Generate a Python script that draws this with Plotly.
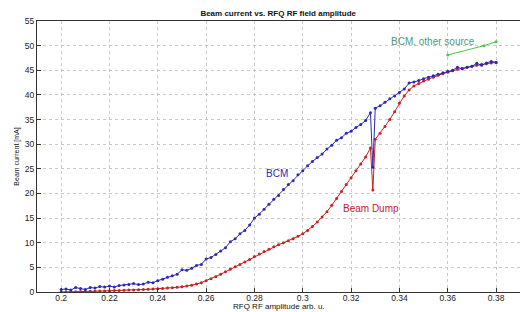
import plotly.graph_objects as go

amplitude = [0.200, 0.202, 0.204, 0.206, 0.208, 0.210, 0.212, 0.214, 0.216, 0.218,
             0.220, 0.222, 0.224, 0.226, 0.228, 0.230, 0.232, 0.234, 0.236, 0.238,
             0.240, 0.242, 0.244, 0.246, 0.248, 0.250, 0.252, 0.254, 0.256, 0.258,
             0.260, 0.262, 0.264, 0.266, 0.268, 0.270, 0.272, 0.274, 0.276, 0.278,
             0.280, 0.282, 0.284, 0.286, 0.288, 0.290, 0.292, 0.294, 0.296, 0.298,
             0.300, 0.302, 0.304, 0.306, 0.308, 0.310, 0.312, 0.314, 0.316, 0.318,
             0.320, 0.322, 0.324, 0.326, 0.328, 0.329, 0.330, 0.332, 0.334, 0.336,
             0.338, 0.340, 0.342, 0.344, 0.346, 0.348, 0.350, 0.352, 0.354, 0.356,
             0.358, 0.360, 0.362, 0.364, 0.366, 0.368, 0.370, 0.372, 0.374, 0.376,
             0.378, 0.380]

bcm = [0.5, 0.6, 0.4, 0.9, 0.7, 0.5, 0.9, 0.8, 1.1, 1.0,
       1.2, 1.0, 1.3, 1.4, 1.5, 1.7, 1.5, 1.6, 2.0, 1.9,
       2.3, 2.6, 3.0, 3.3, 3.6, 4.5, 4.4, 4.8, 5.4, 5.6,
       6.7, 7.0, 7.6, 8.3, 9.0, 10.2, 10.8, 11.8, 12.5, 13.6,
       15.0, 15.8, 16.8, 17.8, 18.8, 19.6, 20.8, 21.8, 22.6, 23.8,
       24.6, 25.6, 26.5, 27.3, 28.0, 29.0, 29.8, 30.8, 31.3, 32.2,
       32.6, 33.4, 34.0, 34.8, 36.4, 25.3, 37.3, 37.8, 38.5, 39.2,
       39.8, 40.5, 41.2, 42.4, 42.6, 42.9, 43.3, 43.6, 43.9, 44.2,
       44.5, 44.8, 45.0, 45.6, 45.3, 45.6, 45.8, 46.4, 46.0, 46.5,
       46.8, 46.6]

beam_dump = [0.0, 0.0, 0.05, 0.05, 0.1, 0.1, 0.15, 0.15, 0.2, 0.2,
             0.25, 0.3, 0.3, 0.35, 0.4, 0.4, 0.45, 0.5, 0.55, 0.6,
             0.65, 0.7, 0.8, 0.85, 0.95, 1.05, 1.2, 1.35, 1.6, 1.9,
             2.3, 2.7, 3.1, 3.6, 4.1, 4.6, 5.1, 5.6, 6.1, 6.6,
             7.2, 7.7, 8.2, 8.7, 9.2, 9.6, 10.0, 10.4, 10.8, 11.3,
             11.8, 12.5, 13.3, 14.2, 15.2, 16.3, 17.6, 19.0, 20.4, 21.8,
             23.2, 24.6, 26.0, 27.4, 29.2, 20.7, 31.0, 32.2, 33.6, 35.0,
             36.6, 38.3, 39.8, 41.0, 41.8, 42.3, 42.8, 43.2, 43.6, 44.0,
             44.3, 44.6, 44.9, 45.2, 45.4, 45.6, 45.8, 46.0, 46.2, 46.3,
             46.5, 46.6]

other_x = [0.360, 0.375, 0.380]
other_y = [48.1, 50.0, 50.8]

x_ticks = [0.2, 0.22, 0.24, 0.26, 0.28, 0.3, 0.32, 0.34, 0.36, 0.38]
x_tick_text = ["0.2", "0.22", "0.24", "0.26", "0.28", "0.3", "0.32", "0.34", "0.36", "0.38"]
y_ticks = [0, 5, 10, 15, 20, 25, 30, 35, 40, 45, 50, 55]

BLUE = "#2a2ab8"
RED = "#cc2020"
GREEN = "#44cc44"
FONT = "Liberation Sans"

fig = go.Figure()
fig.add_trace(go.Scatter(x=amplitude, y=beam_dump, mode="lines+markers",
                         line=dict(color=RED, width=1), marker=dict(color=RED, size=3),
                         showlegend=False))
fig.add_trace(go.Scatter(x=amplitude, y=bcm, mode="lines+markers",
                         line=dict(color=BLUE, width=1), marker=dict(color=BLUE, size=3),
                         showlegend=False))
fig.add_trace(go.Scatter(x=other_x, y=other_y, mode="lines+markers",
                         line=dict(color=GREEN, width=1), marker=dict(color=GREEN, size=3),
                         showlegend=False))

fig.add_annotation(x=0.2893, y=24.0, text="BCM", showarrow=False,
                   font=dict(color=BLUE, size=10, family=FONT))
fig.add_annotation(x=0.3282, y=17.0, text="Beam Dump", showarrow=False,
                   font=dict(color=RED, size=10, family=FONT))
fig.add_annotation(x=0.354, y=50.8, text="BCM, other source", showarrow=False,
                   font=dict(color="#4f9a78", size=10, family=FONT))
fig.add_annotation(xref="paper", yref="paper", x=0.5, y=0, yanchor="bottom",
                   yshift=-20, text="RFQ RF amplitude arb. u.", showarrow=False,
                   borderpad=0,
                   font=dict(size=8, color="#111111", family=FONT))

axis_common = dict(showgrid=True, gridcolor="#c8c8c8", griddash="dot", gridwidth=1,
                   showline=True, linecolor="#333333", linewidth=1, mirror=True,
                   ticks="inside", ticklen=4, tickcolor="#333333", zeroline=False,
                   tickfont=dict(size=8.5, color="#222222", family=FONT))

fig.update_layout(
    width=520, height=312,
    margin=dict(l=37, r=0, t=21, b=20),
    paper_bgcolor="white", plot_bgcolor="white",
    title=dict(text="<b>Beam current vs. RFQ RF field amplitude</b>", x=0.535, xanchor="center",
               y=0.958, yanchor="middle",
               font=dict(size=8, color="#111111", family=FONT)),
    xaxis=dict(range=[0.19, 0.3899], tickvals=x_ticks, ticktext=x_tick_text,
               ticklabelstandoff=-2, **axis_common),
    yaxis=dict(range=[0, 55], tickvals=y_ticks,
               title=dict(text="Beam current [mA]", standoff=4,
                          font=dict(size=7, color="#111111", family=FONT)),
               **axis_common),
)

fig.write_html("out.html", config={"displayModeBar": False},
               post_script="document.body.style.margin='0';document.body.style.overflow='hidden';")
